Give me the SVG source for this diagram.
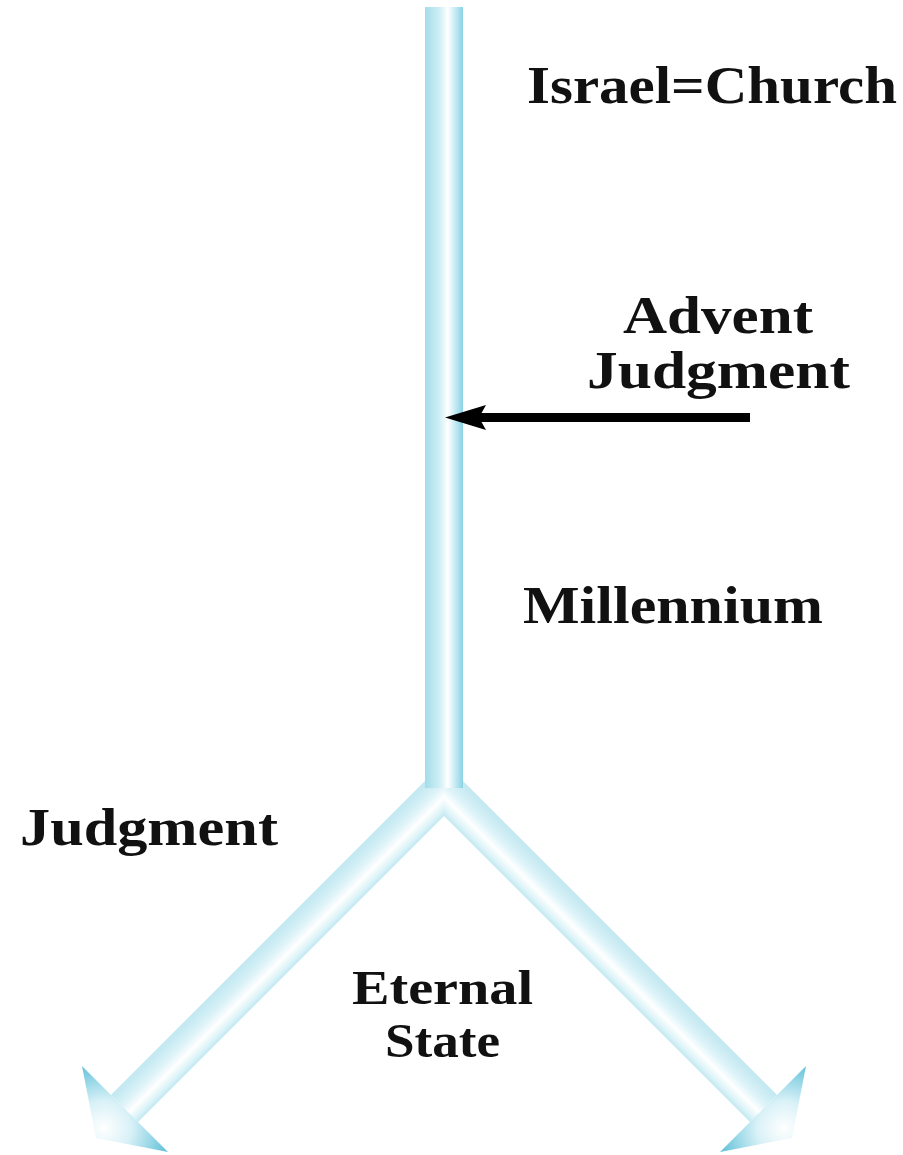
<svg xmlns="http://www.w3.org/2000/svg" width="903" height="1155" viewBox="0 0 903 1155">
<style>
.lbl{font-family:"Liberation Serif","Times New Roman",serif;font-weight:bold;font-size:52px;fill:#111;}
.sm{font-size:48px;}
</style>
<defs>
<linearGradient id="gBar" x1="0" y1="0" x2="1" y2="0">
<stop offset="0" stop-color="#a2dcea"/>
<stop offset="0.4" stop-color="#d2f0f6"/>
<stop offset="0.6" stop-color="#ffffff"/>
<stop offset="0.8" stop-color="#c4eaf3"/>
<stop offset="1" stop-color="#8ad2e4"/>
</linearGradient>
<linearGradient id="gArmL" gradientUnits="userSpaceOnUse" x1="290" y1="916" x2="317" y2="943">
<stop offset="0" stop-color="#c0e7f1"/>
<stop offset="0.4" stop-color="#dcf3f8"/>
<stop offset="0.65" stop-color="#ffffff"/>
<stop offset="0.85" stop-color="#dff4f8"/>
<stop offset="1" stop-color="#c2e8f1"/>
</linearGradient>
<linearGradient id="gArmR" gradientUnits="userSpaceOnUse" x1="598" y1="916" x2="571" y2="943">
<stop offset="0" stop-color="#c0e7f1"/>
<stop offset="0.4" stop-color="#dcf3f8"/>
<stop offset="0.65" stop-color="#ffffff"/>
<stop offset="0.85" stop-color="#dff4f8"/>
<stop offset="1" stop-color="#c2e8f1"/>
</linearGradient>
<radialGradient id="gHeadL" gradientUnits="userSpaceOnUse" cx="104" cy="1128" r="78">
<stop offset="0" stop-color="#ffffff"/>
<stop offset="0.35" stop-color="#d8f1f7"/>
<stop offset="1" stop-color="#3fb3d1"/>
</radialGradient>
<radialGradient id="gHeadR" gradientUnits="userSpaceOnUse" cx="784" cy="1128" r="78">
<stop offset="0" stop-color="#ffffff"/>
<stop offset="0.35" stop-color="#d8f1f7"/>
<stop offset="1" stop-color="#3fb3d1"/>
</radialGradient>
</defs>
<rect width="903" height="1155" fill="#ffffff"/>
<g id="timeline">
<polygon points="444,762 444,816 138,1122 111,1095" fill="url(#gArmL)"/>
<polygon points="444,762 444,816 750,1122 777,1095" fill="url(#gArmR)"/>
<polygon points="82,1066 168,1152 96,1138" fill="url(#gHeadL)"/>
<polygon points="806,1066 720,1152 792,1138" fill="url(#gHeadR)"/>
<rect x="425" y="7" width="38" height="781" fill="url(#gBar)"/>
</g>
<g id="connectors">
<line x1="750" y1="417.5" x2="476" y2="417.5" stroke="#000" stroke-width="9"/>
<polygon points="445,417.5 486,405 479,417.5 486,430" fill="#000"/>
</g>
<g id="israel-church"><text class="lbl" x="527" y="103" textLength="370" lengthAdjust="spacingAndGlyphs">Israel=Church</text></g>
<g id="advent-judgment">
<text class="lbl" x="623" y="333" textLength="190" lengthAdjust="spacingAndGlyphs">Advent</text>
<text class="lbl" x="587" y="388" textLength="263" lengthAdjust="spacingAndGlyphs">Judgment</text>
</g>
<g id="millennium"><text class="lbl" x="523" y="623" textLength="300" lengthAdjust="spacingAndGlyphs">Millennium</text></g>
<g id="judgment"><text class="lbl" x="20" y="845" textLength="258" lengthAdjust="spacingAndGlyphs">Judgment</text></g>
<g id="eternal-state">
<text class="lbl sm" x="352" y="1004" textLength="181" lengthAdjust="spacingAndGlyphs">Eternal</text>
<text class="lbl sm" x="385" y="1057" textLength="115" lengthAdjust="spacingAndGlyphs">State</text>
</g>
</svg>
